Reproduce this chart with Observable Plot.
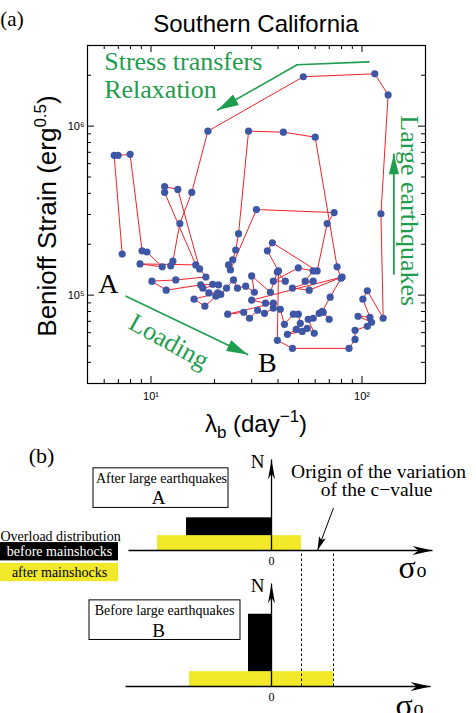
<!DOCTYPE html>
<html>
<head>
<meta charset="utf-8">
<script src="https://cdn.jsdelivr.net/npm/d3@7"></script>
<script src="https://cdn.jsdelivr.net/npm/@observablehq/plot@0.6"></script>
<style>
  html, body { margin: 0; padding: 0; background: #fff; overflow: hidden; width: 476px; height: 713px; }
  #root svg { display: block; }
</style>
</head>
<body>
<div id="root"></div>
<script>
// ===== Panel (a): trajectory (lambda_b [1/day], Benioff strain [erg^0.5]) in time order =====
const lambdaB = [7.30, 6.69, 6.99, 7.96, 9.07, 9.57, 11.3, 8.87, 16.3, 11.6,
  11.6, 13.4, 17.0, 18.2, 13.1, 10.1, 11.8, 17.2, 19.6, 20.9,
  17.6, 18.8, 20.7, 16.0, 18.0, 20.3, 21.4, 22.8, 24.6, 25.7,
  28.1, 30.9, 30.0, 36.8, 39.7, 43.3, 38.0, 49.9, 58.7, 53.8,
  58.7, 46.8, 56.2, 80.5, 30.0, 34.9, 38.0, 23.1, 27.5, 29.3,
  32.0, 34.5, 38.0, 41.0, 42.9, 47.3, 49.9, 51.0, 48.8, 44.3,
  52.1, 55.0, 59.4, 55.6, 58.7, 62.7, 65.5, 69.9, 64.8, 70.7,
  79.6, 76.2, 60.0, 42.4, 29.0, 26.0, 25.2, 24.4, 23.3, 23.8,
  31.6, 73.8, 68.4, 61.3, 37.6, 35.6, 40.2, 39.7, 46.8, 86.8,
  92.7, 92.7, 106, 111, 95.8, 109, 101, 106, 126, 123,
  133, 115, 52.7, 18.6, 15.6, 13.7, 12.7, 12.4];
const benioff = [1.75e5, 6.72e5, 6.72e5, 6.81e5, 1.83e5, 1.80e5, 1.47e5, 1.53e5, 1.51e5, 4.05e5,
  4.39e5, 4.22e5, 1.43e5, 1.28e5, 1.23e5, 1.21e5, 1.07e5, 1.15e5, 1.16e5, 1.15e5,
  1.10e5, 1.03e5, 1.03e5, 9.47e4, 8.60e4, 9.86e4, 1.01e5, 1.10e5, 1.23e5, 1.10e5,
  1.13e5, 1.04e5, 1.30e5, 1.04e5, 1.37e5, 1.21e5, 1.21e5, 1.45e5, 1.39e5, 1.21e5,
  1.21e5, 1.10e5, 1.07e5, 1.28e5, 9.34e4, 8.96e4, 8.96e4, 7.71e4, 7.92e4, 7.30e4,
  8.14e4, 7.81e4, 8.37e4, 8.25e4, 6.72e4, 7.71e4, 7.71e4, 6.81e4, 6.27e4, 5.86e4,
  6.10e4, 6.36e4, 5.94e4, 7.20e4, 7.30e4, 7.81e4, 7.92e4, 7.20e4, 8.03e4, 9.73e4,
  1.26e5, 1.47e5, 8.60e5, 9.21e5, 9.34e5, 2.31e5, 1.85e5, 1.62e5, 1.51e5, 1.41e5,
  3.21e5, 3.08e5, 2.65e5, 1.39e5, 2.04e5, 1.83e5, 1.39e5, 5.40e4, 4.84e4, 4.84e4,
  5.47e4, 6.19e4, 6.54e4, 6.91e4, 7.50e4, 7.40e4, 9.47e4, 1.06e5, 7.30e4, 3.03e5,
  1.53e6, 2.04e6, 1.96e6, 9.34e5, 4.05e5, 2.65e5, 1.59e5, 1.49e5];

// tick values (log axes)
const xMajorTicks = [10, 100];
const xMinorTicks = [6, 7, 8, 9, 20, 30, 40, 50, 60, 70, 80, 90];
const yMajorTicks = [1e5, 1e6];
const yMinorTicks = [4e4, 5e4, 6e4, 7e4, 8e4, 9e4, 2e5, 3e5, 4e5, 5e5, 6e5, 7e5, 8e5, 9e5, 2e6];

// ===== Panel (b): schematic overload distributions =====
const distPanel = ["A", "A", "B", "B"];
const distKind  = ["after", "before", "after", "before"];
const distFrom  = [-11.4, -8.5, -8.2, -2.3];
const distTo    = [3.0, 0, 6.2, 0];
const distLevel = [1.5, 1.8, 1.5, 5.8];
const cValueRange = [3.0, 6.2];
const legendKinds = ["before", "after"];
const legendLabels = ["before mainshocks", "after mainshocks"];
const boxPanels = ["A", "B"];
const boxTitles = ["After large earthquakes", "Before large earthquakes"];

// ===== styling =====
const GREEN = "#1f9d4f", RED = "#f0222a", BLUE = "#3e56a6", YELLOW = "#f1e82a";
const SANS = "Liberation Sans, Arial, sans-serif";
const SERIF = "Liberation Serif, Times New Roman, serif";
const supDigits = {"1": "\u00b9", "2": "\u00b2", "5": "\u2075", "6": "\u2076"};
const pow10 = d => "10" + supDigits[String(Math.round(Math.log10(d)))];

function head(len, wid, notch = 0) {
  return {draw(ctx) {
    ctx.moveTo(0, 0);
    ctx.lineTo(-wid / 2, len);
    ctx.lineTo(0, len * (1 - notch));
    ctx.lineTo(wid / 2, len);
    ctx.closePath();
  }};
}

const traj = lambdaB.map((x, i) => ({lambda: x, strain: benioff[i]}));
const IN = 338; // inner frame size (px) of panel (a)

// annotation geometry (panel a, data coordinates)
const relax = [{x: 107.9, y: 2.40e6}, {x: 49.3, y: 2.31e6}, {x: 20.7, y: 1.245e6}];
const quake = [{x: 141.6, y: 1.334e5}, {x: 141.6, y: 6.81e5}];
const load  = [{x: 7.62, y: 9.86e4}, {x: 28.7, y: 4.45e4}];

const chartA = Plot.plot({
  width: 476, height: 444,
  marginTop: 45, marginBottom: 61, marginLeft: 87, marginRight: 51,
  x: {type: "log", domain: [5, 200]},
  y: {type: "log", domain: [3e4, 3e6]},
  style: {background: "white", color: "black", fontFamily: SANS},
  marks: [
    // inward ticks on all four sides
    Plot.tickX(xMinorTicks, {x: d => d, insetTop: IN - 4, stroke: "black"}),
    Plot.tickX(xMinorTicks, {x: d => d, insetBottom: IN - 4, stroke: "black"}),
    Plot.tickX(xMajorTicks, {x: d => d, insetTop: IN - 7, stroke: "black"}),
    Plot.tickX(xMajorTicks, {x: d => d, insetBottom: IN - 7, stroke: "black"}),
    Plot.tickY(yMinorTicks, {y: d => d, insetRight: IN - 4, stroke: "black"}),
    Plot.tickY(yMinorTicks, {y: d => d, insetLeft: IN - 4, stroke: "black"}),
    Plot.tickY(yMajorTicks, {y: d => d, insetRight: IN - 7, stroke: "black"}),
    Plot.tickY(yMajorTicks, {y: d => d, insetLeft: IN - 7, stroke: "black"}),
    Plot.axisX(xMajorTicks, {anchor: "bottom", tickSize: 0, tickPadding: 9, tickFormat: pow10, fontSize: 11, label: null}),
    Plot.axisY(yMajorTicks, {anchor: "left", tickSize: 0, tickPadding: 3, tickFormat: pow10, fontSize: 11, label: null}),
    Plot.frame({stroke: "black", strokeWidth: 1.2}),
    // data
    Plot.line(traj, {x: "lambda", y: "strain", stroke: RED, strokeWidth: 1}),
    Plot.dot(traj, {x: "lambda", y: "strain", r: 3.6, fill: BLUE}),
    // annotations
    Plot.line(relax, {x: "x", y: "y", stroke: GREEN, strokeWidth: 1.6}),
    Plot.dot([relax[2]], {x: "x", y: "y", symbol: head(21, 12), rotate: 240.6, fill: GREEN}),
    Plot.line(quake, {x: "x", y: "y", stroke: GREEN, strokeWidth: 1.8}),
    Plot.dot([quake[1]], {x: "x", y: "y", symbol: head(20, 10), rotate: 0, fill: GREEN}),
    Plot.line(load, {x: "x", y: "y", stroke: GREEN, strokeWidth: 1.6}),
    Plot.dot([load[1]], {x: "x", y: "y", symbol: head(21, 12), rotate: 115.4, fill: GREEN}),
    Plot.text(["Stress transfers"], {x: 6.0, y: 2.4e6, text: d => d, textAnchor: "start", fill: GREEN, fontSize: 26, fontFamily: SERIF}),
    Plot.text(["Relaxation"], {x: 6.0, y: 1.64e6, text: d => d, textAnchor: "start", fill: GREEN, fontSize: 26, fontFamily: SERIF}),
    Plot.text(["Large earthquakes"], {x: 168, y: 3.16e5, text: d => d, rotate: 90, fill: GREEN, fontSize: 26, fontFamily: SERIF}),
    Plot.text(["Loading"], {x: 12.16, y: 5.32e4, text: d => d, rotate: 29, fill: GREEN, fontSize: 26, fontFamily: SERIF}),
    Plot.text(["A"], {x: 6.27, y: 1.163e5, text: d => d, fill: "black", fontSize: 28, fontFamily: SERIF}),
    Plot.text(["B"], {x: 35.6, y: 3.99e4, text: d => d, fill: "black", fontSize: 28, fontFamily: SERIF})
  ]
});

// titles and axis labels with sub/superscripts
{
  const svg = d3.select(chartA);
  svg.append("text").attr("x", 12).attr("y", 26).attr("font-family", SERIF).attr("font-size", 21).attr("fill", "black").text("(a)");
  svg.append("text").attr("x", 256).attr("y", 32).attr("text-anchor", "middle").attr("font-family", SANS).attr("font-size", 24).attr("fill", "black").text("Southern California");
  const yl = svg.append("text").attr("transform", "translate(56,216) rotate(-90)").attr("text-anchor", "middle")
    .attr("font-family", SANS).attr("font-size", 26).attr("fill", "black");
  yl.append("tspan").text("Benioff Strain (erg");
  yl.append("tspan").attr("dy", -10).attr("font-size", 17).text("0.5");
  yl.append("tspan").attr("dy", 10).text(")");
  const xl = svg.append("text").attr("x", 256).attr("y", 432).attr("text-anchor", "middle")
    .attr("font-family", SANS).attr("font-size", 24).attr("fill", "black");
  xl.append("tspan").text("\u03bb");
  xl.append("tspan").attr("dy", 6).attr("font-size", 17).text("b");
  xl.append("tspan").attr("dy", -6).text(" (day");
  xl.append("tspan").attr("dy", -10).attr("font-size", 17).text("\u22121");
  xl.append("tspan").attr("dy", 10).text(")");
}

// ===== Panel (b) =====
const dist = distPanel.map((p, i) => {
  const base = distKind[i] === "before" ? distLevel[i - 1] : 0;
  return {panel: p, kind: distKind[i], lo: distFrom[i], hi: distTo[i], n0: base, n1: base + distLevel[i]};
});
const axesB = [
  {panel: "A", s0: -14.3, s1: 16.1, nTop: 9.2, sigX: 12.7, sigY: -1.7, subX: 14.5, subY: -2.05},
  {panel: "B", s0: -14.6, s1: 15.9, nTop: 10.4, sigX: 12.4, sigY: -1.9, subX: 14.2, subY: -2.25}
];
const boxGeom = {
  A: {x1: -17.8, x2: -4.3, y1: 4.3, y2: 8.3, tx: -11.0, ty: 7.25, lx: -11.3, ly: 5.3},
  B: {x1: -18.2, x2: -3.1, y1: 4.7, y2: 8.7, tx: -10.7, ty: 7.65, lx: -11.3, ly: 5.6}
};
const boxes = boxPanels.map((p, i) => ({panel: p, title: boxTitles[i], tag: p, ...boxGeom[p]}));
const legend = legendKinds.map((k, i) => ({panel: "A", kind: k, label: legendLabels[i], i}));
const dashed = cValueRange.map(s => ({panel: "B", s}));
const onlyA = [{panel: "A"}];

const chartB = Plot.plot({
  width: 476, height: 269,
  marginTop: 6, marginBottom: 26, marginLeft: 0, marginRight: 0,
  x: {domain: [-27.1, 20.5], axis: null},
  y: {domain: [0, 10], axis: null},
  fy: {domain: ["A", "B"], paddingInner: 0.27, paddingOuter: 0, axis: null},
  color: {domain: ["before", "after"], range: ["#000000", YELLOW]},
  style: {background: "transparent", color: "black", fontFamily: SERIF},
  marks: [
    Plot.text(onlyA, {x: -23, y: 9.6, fy: "panel", text: () => "(b)", fontSize: 22, fontFamily: SERIF}),
    Plot.rect(dist, {x1: "lo", x2: "hi", y1: "n0", y2: "n1", fy: "panel", fill: "kind"}),
    Plot.ruleX(dashed, {x: "s", y1: 0, y2: 13.4, fy: "panel", stroke: "black", strokeWidth: 1, strokeDasharray: "2.5,2.5"}),
    Plot.link(axesB, {x1: "s0", x2: "s1", y1: 0, y2: 0, fy: "panel", stroke: "black", strokeWidth: 1.3}),
    Plot.link(axesB, {x1: 0, x2: 0, y1: 0, y2: "nTop", fy: "panel", stroke: "black", strokeWidth: 1.3}),
    Plot.dot(axesB, {x: "s1", y: 0, fy: "panel", symbol: head(20, 9, 0.3), rotate: 90, fill: "black"}),
    Plot.dot(axesB, {x: 0, y: "nTop", fy: "panel", symbol: head(20, 7, 0.3), rotate: 0, fill: "black"}),
    Plot.text(axesB, {x: 0, y: -1.1, fy: "panel", text: () => "0", fontSize: 12, fontFamily: SERIF}),
    Plot.text(axesB, {x: -1.4, y: d => d.nTop - 0.25, fy: "panel", text: () => "N", fontSize: 19, fontFamily: SERIF}),
    Plot.text(axesB, {x: "sigX", y: "sigY", fy: "panel", text: () => "\u03c3", textAnchor: "start", fontSize: 32, fontFamily: SERIF}),
    Plot.text(axesB, {x: "subX", y: "subY", fy: "panel", text: () => "o", textAnchor: "start", fontSize: 20, fontFamily: SERIF}),
    // boxes
    Plot.rect(boxes, {x1: "x1", x2: "x2", y1: "y1", y2: "y2", fy: "panel", fill: "white", stroke: "black", strokeWidth: 1}),
    Plot.text(boxes, {x: "tx", y: "ty", fy: "panel", text: "title", fontSize: 14, fontFamily: SERIF}),
    Plot.text(boxes, {x: "lx", y: "ly", fy: "panel", text: "tag", fontSize: 19, fontFamily: SERIF}),
    // legend
    Plot.text(onlyA, {x: -27.1, y: 1.45, fy: "panel", text: () => "Overload distribution", textAnchor: "start", fontSize: 14, fontFamily: SERIF}),
    Plot.rect(legend, {x1: -27.1, x2: -15.3, y1: d => 0.8 - d.i * 2.1, y2: d => 0.8 - d.i * 2.1 - 1.85, fy: "panel", fill: "kind"}),
    Plot.text(legend.filter(d => d.kind === "before"), {x: -21.2, y: d => -0.1 - d.i * 2.15, fy: "panel", text: "label", fill: "white", fontSize: 14, fontFamily: SERIF}),
    Plot.text(legend.filter(d => d.kind === "after"), {x: -21.2, y: d => -0.1 - d.i * 2.15, fy: "panel", text: "label", fill: "black", fontSize: 14, fontFamily: SERIF}),
    // origin of c-value annotation
    Plot.text(onlyA, {x: 10.7, y: 8.0, fy: "panel", text: () => "Origin of the variation", fontSize: 19.5, fontFamily: SERIF}),
    Plot.text(onlyA, {x: 10.5, y: 6.1, fy: "panel", text: () => "of the c\u2212value", fontSize: 19.5, fontFamily: SERIF}),
    Plot.link(onlyA, {x1: 6.2, y1: 4.3, x2: 4.6, y2: 0, fy: "panel", stroke: "black", strokeWidth: 1}),
    Plot.dot(onlyA, {x: 4.6, y: 0, fy: "panel", symbol: head(14, 7, 0.2), rotate: 200.4, fill: "black"})
  ]
});

document.getElementById("root").append(chartA, chartB);
</script>
</body>
</html>
